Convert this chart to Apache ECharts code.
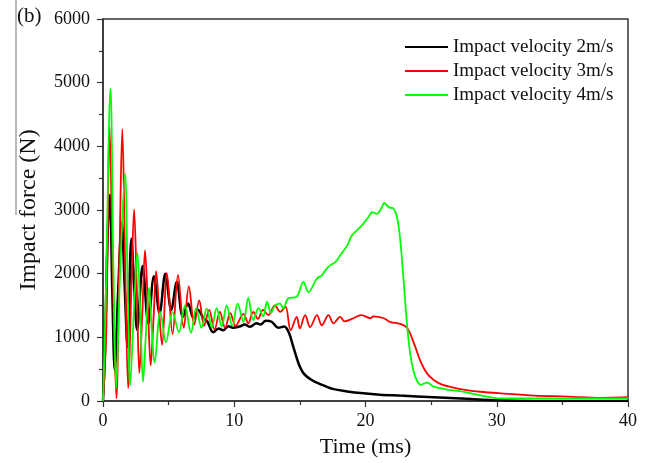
<!DOCTYPE html>
<html>
<head>
<meta charset="utf-8">
<script src="https://cdn.jsdelivr.net/npm/echarts@6/dist/echarts.min.js"></script>
<style>
html,body{margin:0;padding:0;background:#fff;}
#c{width:650px;height:463px;}
</style>
</head>
<body>
<div id="c"></div>
<script>
// ---- Data (time in ms, force in N) ----
const seriesNames = ['Impact velocity 2m/s', 'Impact velocity 3m/s', 'Impact velocity 4m/s'];
const xTicks = [0, 10, 20, 30, 40];
const yTicks = [0, 1000, 2000, 3000, 4000, 5000, 6000];

const t2 = [0, 0.15, 0.35, 0.53, 0.7, 0.9, 1.15, 1.43, 1.65, 1.87, 2.16, 2.38, 2.6, 3.02, 3.45, 3.88, 4.31, 4.75, 5.2, 5.62, 6.08, 6.48, 6.9, 7.25, 7.65, 7.95, 8.4, 8.8, 9.15, 9.55, 9.9, 10.4, 10.8, 11.2, 11.7, 12.0, 12.4, 12.85, 13.35, 13.8, 14.15, 14.5, 14.9, 15.3, 15.9, 16.5, 17.5, 18.6, 19.85, 21.1, 22.6, 25.2, 27.7, 30, 33, 40];
const f2 = [0, 800, 2600, 3240, 1800, 480, 1700, 2800, 1800, 850, 2550, 1800, 1120, 2120, 1220, 1960, 1380, 2000, 1430, 1870, 1320, 1530, 1300, 1430, 1300, 1250, 1080, 1140, 1110, 1175, 1150, 1170, 1200, 1165, 1220, 1200, 1260, 1245, 1150, 1170, 1080, 850, 590, 430, 330, 270, 190, 150, 120, 100, 85, 60, 35, 10, 0, 0];

const t3 = [0, 0.25, 0.5, 0.75, 1.02, 1.25, 1.47, 1.7, 1.92, 2.15, 2.37, 2.57, 2.77, 3.0, 3.2, 3.42, 3.63, 3.85, 4.05, 4.28, 4.5, 4.87, 5.3, 5.71, 6.15, 6.54, 6.95, 7.33, 7.7, 8.09, 8.5, 8.9, 9.3, 9.7, 10.1, 10.7, 11.07, 11.45, 11.8, 12.2, 12.6, 13.1, 13.5, 13.9, 14.3, 14.76, 15.0, 15.4, 15.78, 16.3, 16.67, 17.18, 17.56, 18.07, 18.4, 18.96, 19.7, 20.36, 20.6, 21.4, 21.9, 22.65, 23.2, 23.7, 24.2, 24.7, 25.2, 25.7, 26.7, 27.7, 28.75, 30.3, 32.9, 35.4, 37.9, 40];
const f3 = [0, 1100, 4300, 2000, 40, 2200, 4270, 2000, 200, 1700, 3010, 1800, 440, 1400, 2370, 1500, 560, 1300, 2040, 1400, 880, 2010, 1050, 1980, 1150, 1800, 1200, 1580, 1180, 1430, 1120, 1400, 1150, 1380, 1180, 1370, 1220, 1400, 1290, 1430, 1350, 1500, 1400, 1480, 1110, 1320, 1140, 1350, 1160, 1350, 1190, 1350, 1220, 1320, 1250, 1290, 1350, 1300, 1330, 1300, 1240, 1210, 1140, 900, 620, 430, 330, 270, 210, 172, 145, 120, 85, 70, 50, 60];

const t4 = [0, 0.2, 0.57, 0.8, 1.0, 1.3, 1.68, 1.88, 2.06, 2.35, 2.62, 2.85, 3.05, 3.28, 3.5, 3.72, 3.93, 4.37, 4.8, 5.3, 5.78, 6.25, 6.7, 7.1, 7.5, 7.9, 8.3, 8.65, 9.05, 9.42, 9.85, 10.26, 10.7, 11.07, 11.45, 11.85, 12.2, 12.5, 12.8, 13.1, 13.49, 13.74, 14.1, 14.76, 15.27, 15.65, 16.29, 16.67, 17.05, 17.3, 17.7, 18.07, 18.6, 18.96, 19.6, 20.23, 20.5, 20.87, 21.25, 21.43, 21.76, 22.14, 22.4, 22.65, 22.9, 23.16, 23.4, 23.67, 23.9, 24.2, 24.7, 25.2, 26.2, 27.5, 28.75, 30.3, 35, 40];
const f4 = [0, 1500, 4910, 2000, 200, 2000, 3570, 1800, 240, 1400, 2330, 1300, 300, 1100, 1780, 1100, 600, 1400, 920, 1400, 1080, 1500, 1070, 1460, 1150, 1450, 1150, 1460, 1170, 1500, 1180, 1530, 1240, 1620, 1270, 1460, 1330, 1560, 1380, 1500, 1530, 1450, 1610, 1640, 1870, 1710, 1920, 1975, 2080, 2130, 2180, 2290, 2440, 2600, 2730, 2890, 2965, 2940, 3045, 3110, 3045, 3020, 2890, 2520, 1900, 1220, 750, 460, 330, 255, 290, 225, 180, 145, 90, 40, 40, 40];

// ---- Chart ----
const pairs = (t, f) => t.map((x, i) => [x, f[i]]);
const FONT = '"Liberation Serif", "Times New Roman", serif';
const colors = ['#000000', '#ff0000', '#00ff00'];
const widths = [2.5, 1.8, 1.8];
const dataSets = [pairs(t2, f2), pairs(t3, f3), pairs(t4, f4)];

const chart = echarts.init(document.getElementById('c'), null, {renderer: 'canvas'});

const axisCommon = {
  axisLine: {show: true, onZero: false, lineStyle: {color: '#333', width: 1.5}},
  axisTick: {show: true, inside: false, length: 6, lineStyle: {color: '#333', width: 1.2}},
  minorTick: {show: true, splitNumber: 2, length: 4, lineStyle: {color: '#333', width: 1.2}},
  splitLine: {show: false},
  minorSplitLine: {show: false}
};

chart.setOption({
  animation: false,
  backgroundColor: '#ffffff',
  grid: {left: 103, right: 22, top: 19, bottom: 62, show: true, borderColor: '#333', borderWidth: 1.5},
  legend: {
    data: seriesNames,
    orient: 'vertical',
    left: 405,
    top: 37,
    icon: 'rect',
    itemWidth: 43,
    itemHeight: 2,
    itemGap: 4,
    padding: 0,
    textStyle: {fontFamily: FONT, fontSize: 19, color: '#111', lineHeight: 20}
  },
  xAxis: Object.assign({
    type: 'value', min: xTicks[0], max: xTicks[xTicks.length - 1], interval: 10,
    name: 'Time (ms)', nameLocation: 'middle', nameGap: 35,
    nameTextStyle: {fontFamily: FONT, fontSize: 22, color: '#111'},
    axisLabel: {fontFamily: FONT, fontSize: 18, color: '#111', margin: 11, formatter: v => String(v)}
  }, axisCommon),
  yAxis: Object.assign({
    type: 'value', min: yTicks[0], max: yTicks[yTicks.length - 1], interval: 1000,
    name: 'Impact force (N)', nameLocation: 'middle', nameGap: 62,
    nameTextStyle: {fontFamily: FONT, fontSize: 24, color: '#111'},
    axisLabel: {fontFamily: FONT, fontSize: 18, color: '#111', margin: 13, formatter: v => String(v)}
  }, axisCommon),
  graphic: [
    {type: 'text', left: 17, top: 6, style: {text: '(b)', font: '21px ' + FONT, fill: '#111'}},
    {type: 'line', shape: {x1: 16, y1: 0, x2: 16, y2: 215}, style: {stroke: '#777', lineWidth: 1}}
  ],
  series: seriesNames.map((n, i) => ({
    name: n,
    type: 'line',
    data: dataSets[i],
    smooth: 0.35,
    showSymbol: false,
    symbol: 'none',
    lineStyle: {color: colors[i], width: widths[i]},
    itemStyle: {color: colors[i]},
    z: 2 + i
  }))
});
</script>
</body>
</html>
